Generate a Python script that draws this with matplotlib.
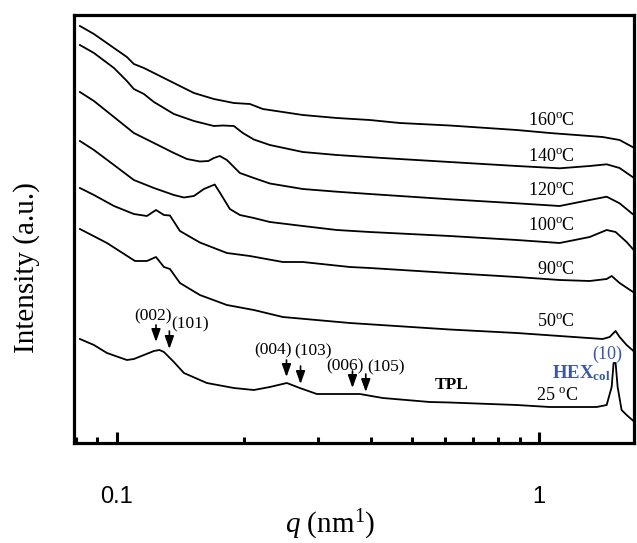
import numpy as np
import matplotlib
matplotlib.use('Agg')
import matplotlib.pyplot as plt
from matplotlib.ticker import LogLocator, NullFormatter

plt.rcParams['mathtext.fontset'] = 'custom'
plt.rcParams['mathtext.rm'] = 'Liberation Serif'
plt.rcParams['mathtext.it'] = 'Liberation Serif:italic'
plt.rcParams['mathtext.bf'] = 'Liberation Serif:bold'

# SAXS curves (q in nm^-1, intensity in arbitrary units, already offset)
q_160 = [0.0819, 0.0884, 0.0986, 0.1058, 0.1099, 0.1161, 0.1226, 0.1367, 0.1525, 0.1700, 0.1896, 0.2069, 0.2220,
         0.2476, 0.2761, 0.3323, 0.3978, 0.4683, 0.6151, 0.8861, 1.0607, 1.4162, 1.5531, 1.6672]
I_160 = [417, 409, 395, 386, 379, 375, 370, 360, 350, 344, 340, 339, 334,
         331, 328, 325, 323, 320, 317.5, 313, 310, 306, 303, 296]

q_140 = [0.0819, 0.0884, 0.0986, 0.1058, 0.1099, 0.1161, 0.1226, 0.1367, 0.1525, 0.1700, 0.1785, 0.1896, 0.1991,
         0.2114, 0.2307, 0.2761, 0.3323, 0.4270, 0.6151, 0.8861, 1.1201, 1.3193, 1.4473, 1.5531, 1.6672]
I_140 = [398, 390, 375, 362, 354, 349, 341, 329, 322, 317, 317.5, 317, 310,
         303.5, 298, 291, 288, 285, 281, 277, 274.7, 277, 278.7, 275, 266]

q_120 = [0.0819, 0.0884, 0.0986, 0.1099, 0.1226, 0.1367, 0.1468, 0.1575, 0.1650, 0.1700, 0.1756, 0.1825, 0.1896,
         0.1959, 0.2114, 0.2307, 0.2761, 0.3323, 0.3978, 0.6151, 0.8861, 1.1201, 1.3193, 1.4473, 1.5531, 1.6672]
I_120 = [351, 342, 326, 310, 300, 290, 284, 281.5, 282, 285, 287, 283, 276,
         270, 265, 259.5, 254, 251.3, 249, 243.7, 239.7, 237, 243, 246.3, 239.7, 229]

q_100 = [0.0819, 0.0884, 0.0986, 0.1099, 0.1226, 0.1367, 0.1444, 0.1525, 0.1610, 0.1708, 0.1765, 0.1855,
         0.1959, 0.2114, 0.2307, 0.2761, 0.3323, 0.3978, 0.6151, 0.8861, 1.1201, 1.3193, 1.4473, 1.5196,
         1.6139, 1.6853]
I_100 = [302, 293, 278, 263, 255, 248, 245.5, 247, 254, 258.5, 249, 234,
         228, 225, 221, 217, 213, 211, 207, 203, 200, 206, 213, 211,
         201, 192]

q_90 = [0.0819, 0.0884, 0.0986, 0.1099, 0.1180, 0.1240, 0.1295, 0.1338, 0.1413, 0.1575, 0.1825, 0.2069,
        0.2476, 0.2761, 0.3567, 0.3978, 0.6151, 0.8861, 1.1201, 1.3193, 1.4473, 1.4873, 1.5531, 1.6853]
I_90 = [255, 248, 237, 229, 227, 233, 228, 227.5, 212, 200.5, 190, 187,
        181, 181, 176, 175, 170, 166, 163, 162, 164, 167, 160, 150]

q_50 = [0.0819, 0.0949, 0.1106, 0.1180, 0.1240, 0.1295, 0.1338, 0.1413, 0.1575, 0.1825, 0.2114, 0.2476,
        0.3567, 0.6151, 0.8861, 1.1201, 1.4162, 1.4711, 1.5196, 1.5531, 1.6139, 1.6853]
I_50 = [214, 200, 182, 182, 186, 176, 174, 160, 148, 138, 133, 126,
        120, 113.5, 110, 107, 104, 106, 112, 106, 98, 91]

q_25 = [0.0819, 0.0884, 0.0949, 0.1058, 0.1099, 0.1161, 0.1226, 0.1264, 0.1295, 0.1367, 0.1444, 0.1636, 0.1896,
        0.2114, 0.2307, 0.2530, 0.2716, 0.2980, 0.3767, 0.4270, 0.5515, 0.6151, 0.8861, 1.0607, 1.3707,
        1.4473, 1.4873, 1.5031, 1.5196, 1.5366, 1.5701, 1.6139, 1.6853]
I_25 = [104, 98, 90, 83, 84, 88, 92, 93, 91, 81, 70, 60, 55,
        53, 56, 60, 55, 49, 49, 45, 41, 40.5, 38, 36, 36,
        38, 56, 80, 80, 56, 33, 28, 21]

curves = [(q_160, I_160), (q_140, I_140), (q_120, I_120), (q_100, I_100),
          (q_90, I_90), (q_50, I_50), (q_25, I_25)]

temps = ['160$^{\\rm o}$C', '140$^{\\rm o}$C', '120$^{\\rm o}$C', '100$^{\\rm o}$C',
         '90$^{\\rm o}$C', '50$^{\\rm o}$C', '25 $^{\\rm o}$C']

peak_labels = ['(002)', '(101)', '(004)', '(103)', '(006)', '(105)']
peak_q = [0.1240, 0.1334, 0.2526, 0.2727, 0.3620, 0.3892]

fig = plt.figure(figsize=(6.37, 5.43), dpi=100)
ax = fig.add_axes([74/637, 1-443/543, 560/637, 428/543])

for q, I in curves:
    ax.plot(q, I, color='black', lw=1.3)

ax.set_xscale('log')
ax.set_xlim(0.0793, 1.68)
ax.set_ylim(0, 428)

# temperature labels
tx = [1.072, 1.072, 1.072, 1.072, 1.096, 1.096, 1.106]
ty = [323, 287, 253, 218, 174, 121, 47]
for t, x, y in zip(temps, tx, ty):
    ax.text(x, y, t, fontsize=13, family='Liberation Serif', ha='center', va='center')

# TPL reflections with arrows
tail = [118, 112, 83, 77, 72, 69]
tip = [101, 94, 66, 59, 55, 51]
lab_x = [0.1219, 0.1497, 0.2349, 0.2911, 0.3470, 0.4356]
lab_y = [127, 119, 93, 92, 77, 76]
for lab, q, y0, y1, lx, ly in zip(peak_labels, peak_q, tail, tip, lab_x, lab_y):
    ax.annotate('', xy=(q, y1), xytext=(q, y0),
                arrowprops=dict(arrowstyle='-|>,head_length=0.7,head_width=0.25', color='black',
                                lw=1.2, shrinkA=0, shrinkB=0, mutation_scale=11))
    ax.text(lx, ly, lab, fontsize=12.5, family='Liberation Serif', ha='center', va='center')

ax.text(0.6208, 58, 'TPL', fontsize=12.5, family='Liberation Serif', weight='bold', ha='center', va='center')
ax.text(1.262, 70, r'$\mathbf{HEX_{col}}$', fontsize=13.5, color='#3b56a8', ha='center', va='center')
ax.text(1.45, 89, '(10)', fontsize=13, family='Liberation Serif', color='#3b56a8', ha='center', va='center')

# axes styling
for s in ax.spines.values():
    s.set_linewidth(2.3)
ax.set_yticks([])
ax.set_xticks([0.1, 1])
ax.set_xticklabels(['0.1', '1'])
ax.xaxis.set_minor_locator(LogLocator(base=10, subs=np.arange(2, 10)))
ax.xaxis.set_minor_formatter(NullFormatter())
ax.tick_params(axis='x', which='major', direction='in', length=8, width=2.2, pad=31,
               labelsize=17)
ax.tick_params(axis='x', which='minor', direction='in', length=4, width=2.2)
for lbl in ax.get_xticklabels():
    lbl.set_family('Liberation Sans')

fig.text(27/637, 1-268/543, 'Intensity (a.u.)', rotation=90, fontsize=21,
         family='Liberation Serif', ha='center', va='center')
fig.text(330/637, 1-525/543, r'$q$ (nm$^{\rm 1}$)', fontsize=21,
         family='Liberation Serif', ha='center', va='center')

fig.savefig('out.png', dpi=100)
